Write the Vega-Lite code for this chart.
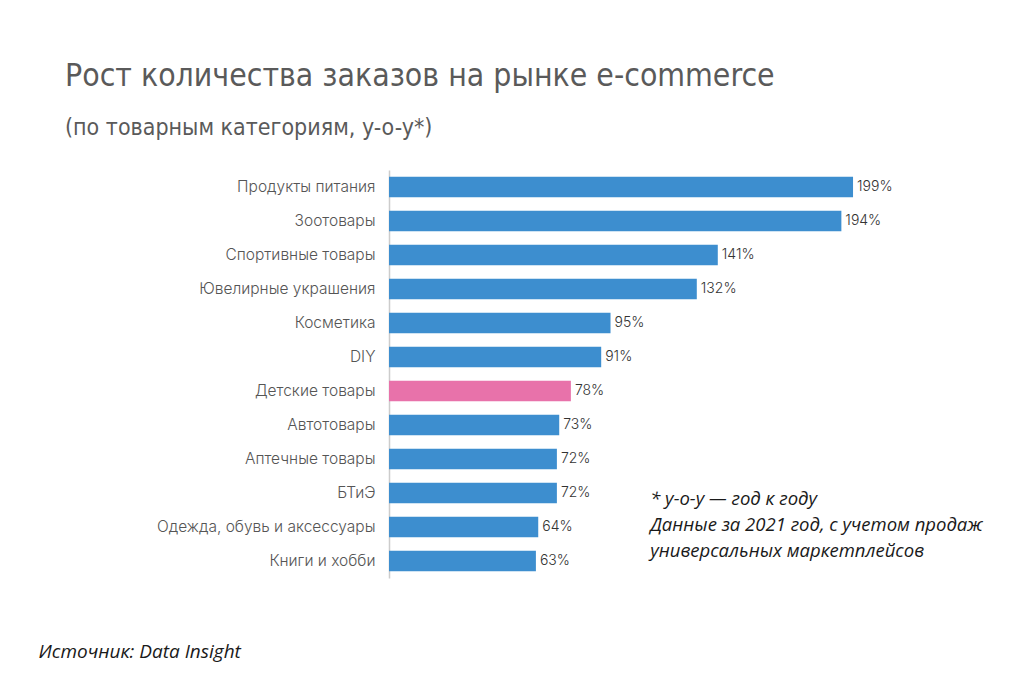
{
  "$schema": "https://vega.github.io/schema/vega-lite/v6.json",
  "autosize": "none",
  "padding": {"left": 389, "top": 170, "right": 109, "bottom": 109},
  "width": 513,
  "height": 408,
  "background": "#ffffff",
  "config": {"view": {"stroke": null}},
  "title": {
    "text": "Рост количества заказов на рынке e-commerce",
    "subtitle": "(по товарным категориям, y-o-y*)",
    "anchor": "start",
    "frame": "group",
    "dx": -324,
    "offset": 30,
    "font": "DejaVu Sans Condensed, sans-serif",
    "fontSize": 31.7,
    "fontWeight": "normal",
    "color": "#5a5a5a",
    "subtitleFont": "DejaVu Sans Condensed, sans-serif",
    "subtitleFontSize": 23,
    "subtitleColor": "#5a5a5a",
    "subtitlePadding": 24
  },
  "data": {
    "values": [
      {"category": "Продукты питания", "growth": 199},
      {"category": "Зоотовары", "growth": 194},
      {"category": "Спортивные товары", "growth": 141},
      {"category": "Ювелирные украшения", "growth": 132},
      {"category": "Косметика", "growth": 95},
      {"category": "DIY", "growth": 91},
      {"category": "Детские товары", "growth": 78},
      {"category": "Автотовары", "growth": 73},
      {"category": "Аптечные товары", "growth": 72},
      {"category": "БТиЭ", "growth": 72},
      {"category": "Одежда, обувь и аксессуары", "growth": 64},
      {"category": "Книги и хобби", "growth": 63}
    ]
  },
  "encoding": {
    "y": {
      "field": "category",
      "type": "nominal",
      "sort": null,
      "scale": {"paddingInner": 0.4, "paddingOuter": 0.2},
      "axis": {
        "title": null,
        "ticks": false,
        "labelPadding": 14,
        "labelFont": "Inter, Lato, sans-serif",
        "labelFontSize": 15.5,
        "labelFontWeight": 300,
        "labelColor": "#555555",
        "domainColor": "#cccccc",
        "domainWidth": 1.5,
        "labelLimit": 400
      }
    },
    "x": {
      "field": "growth",
      "type": "quantitative",
      "scale": {"domain": [0, 220], "nice": false},
      "axis": {
        "labels": false,
        "ticks": false,
        "domain": false,
        "grid": false,
        "title": "Источник: Data Insight",
        "titleX": -351,
        "titleY": 73,
        "titleAnchor": "start",
        "titleAlign": "left",
        "titleBaseline": "middle",
        "titleFont": "Open Sans, Noto Sans, sans-serif",
        "titleFontStyle": "italic",
        "titleFontWeight": "normal",
        "titleFontSize": 19,
        "titleColor": "#1a1a1a"
      }
    }
  },
  "layer": [
    {
      "mark": {"type": "bar"},
      "encoding": {
        "color": {
          "condition": {"test": "datum.category === 'Детские товары'", "value": "#e872aa"},
          "value": "#3d8ecf"
        }
      }
    },
    {
      "transform": [{"calculate": "datum.growth + '%'", "as": "label"}],
      "mark": {
        "type": "text",
        "align": "left",
        "baseline": "middle",
        "dx": 4,
        "font": "Inter, Lato, sans-serif",
        "fontSize": 14,
        "fontWeight": 300,
        "color": "#333333"
      },
      "encoding": {
        "text": {"field": "label", "type": "nominal"}
      }
    },
    {
      "data": {"values": [{"category": "БТиЭ", "growth": 112}]},
      "mark": {
        "type": "text",
        "align": "left",
        "baseline": "top",
        "dy": -3,
        "lineHeight": 26,
        "font": "Open Sans, Noto Sans, sans-serif",
        "fontStyle": "italic",
        "fontSize": 18.5,
        "color": "#1a1a1a"
      },
      "encoding": {
        "text": {"value": ["* y-o-y — год к году", "Данные за 2021 год, с учетом продаж", "универсальных маркетплейсов"]}
      }
    }
  ]
}
